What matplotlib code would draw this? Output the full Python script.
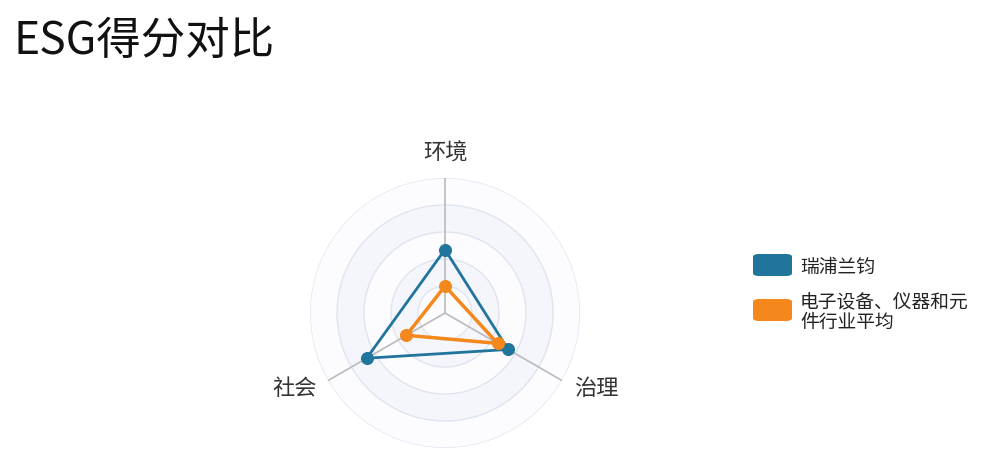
import numpy as np
import matplotlib
matplotlib.use('Agg')
import matplotlib.pyplot as plt
from matplotlib.patches import FancyBboxPatch

plt.rcParams['font.family'] = ['Noto Sans CJK SC', 'DejaVu Sans']

# data
indicators = ['环境', '社会', '治理']
company_name = '瑞浦兰钧'
industry_name = '电子设备、仪器和元\n件行业平均'
company_scores = [47, 67, 54]
industry_scores = [20, 33, 45]
max_score = 100
split_number = 5

blue = '#21749c'
orange = '#f5881c'

fig = plt.figure(figsize=(10, 4.77), dpi=100)
fig.text(0.014, 0.914, 'ESG得分对比', fontsize=32, va='center', ha='left', color='#111111')

ax = fig.add_axes([0.31, 0.0587, 0.27, 0.566], projection='polar')
ax.set_theta_offset(np.pi / 2)
ax.set_ylim(0, max_score)
ax.set_axis_off()

angles = np.arange(len(indicators)) * 2 * np.pi / len(indicators)

# split areas and circles
theta = np.linspace(0, 2 * np.pi, 361)
step = max_score / split_number
for i in range(split_number):
    col = '#fcfcfe' if i % 2 == 0 else '#f4f6fb'
    ax.fill_between(theta, i * step, (i + 1) * step, color=col, lw=0, zorder=0)
    ax.plot(theta, np.full_like(theta, (i + 1) * step), color='#dfe4f0', lw=1, zorder=1)

# axis lines
for a in angles:
    ax.plot([a, a], [0, max_score], color='#bbbbbb', lw=1.2, zorder=2)

def closed(vals):
    return np.append(angles, angles[0]), np.append(vals, vals[0])

t, r = closed(company_scores)
ax.plot(t, r, color=blue, lw=2, zorder=4)
ax.scatter(angles, company_scores, s=70, color=blue, zorder=5)
t, r = closed(industry_scores)
ax.plot(t, r, color=orange, lw=2.5, zorder=4)
ax.scatter(angles, industry_scores, s=70, color=orange, zorder=5)

# indicator labels
label_pos = [(119, 'center'), (110, 'right'), (110, 'left')]
for a, name, (lr, ha) in zip(angles, indicators, label_pos):
    ax.text(a, lr, name, fontsize=16, ha=ha, va='center', color='#333333')

# legend
for y, col, txt, ty in [(255, blue, company_name, 267), (300, orange, industry_name, 312)]:
    box = FancyBboxPatch((753 / 1000, 1 - (y + 22) / 477), 39 / 1000, 22 / 477,
                         boxstyle='round,pad=0,rounding_size=0.006',
                         transform=fig.transFigure, facecolor=col, edgecolor='none')
    fig.patches.append(box)
    fig.text(800 / 1000, 1 - ty / 477, txt, fontsize=13.5, va='center', ha='left',
             color='#222222', linespacing=0.95)

fig.savefig('out.png', dpi=100, facecolor='white')
